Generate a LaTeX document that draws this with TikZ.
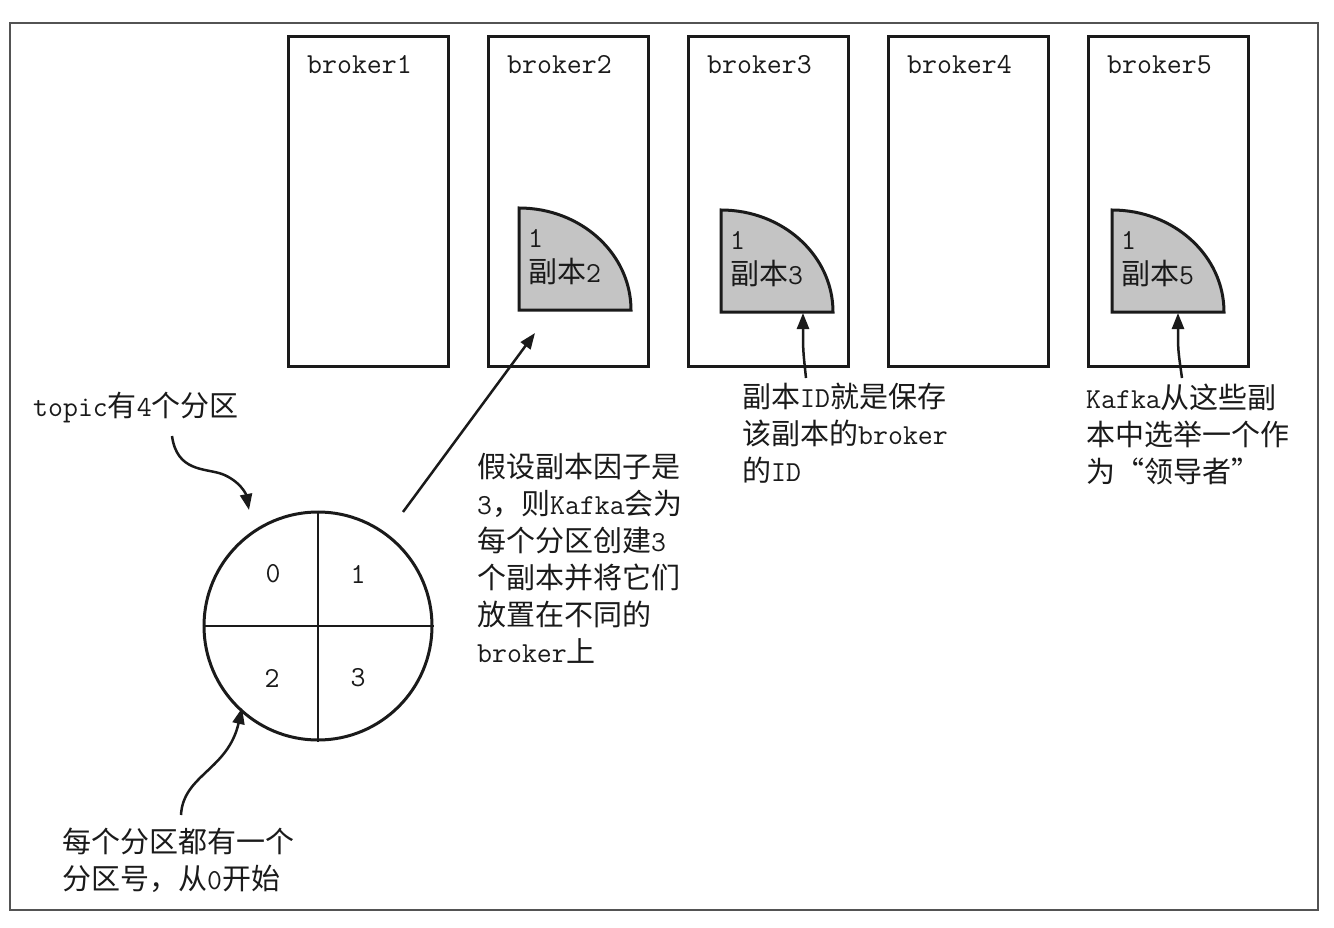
\documentclass[tikz,border=0pt]{standalone}
\usepackage{fontspec}
\newfontfamily\cjk{Noto Sans CJK SC}
\usetikzlibrary{arrows.meta}
\definecolor{shade}{HTML}{C4C4C4}
\definecolor{ink}{HTML}{1A1A1A}
\begin{document}
\begin{tikzpicture}[x=1pt,y=-1pt,
  frame/.style={draw=ink!75, line width=2pt},
  brokerbox/.style={draw=ink, line width=3pt, rectangle, minimum width=160pt, minimum height=330pt, inner sep=0pt},
  quarter/.style={draw=ink, line width=3pt, fill=shade, line join=miter},
  txt/.style={anchor=west, inner sep=0pt, align=left, text=ink, font=\fontsize{29}{37}\selectfont\ttfamily},
  qtxt/.style={txt, font=\fontsize{29}{35}\selectfont\ttfamily},
  arr/.style={draw=ink, line width=2.5pt, -{Triangle[length=16pt,width=12pt]}},
  divider/.style={draw=ink, line width=1.8pt}
]
\useasboundingbox (0,0) rectangle (1334,928);
\fill[white] (0,0) rectangle (1334,928);
\draw[frame] (10,23) rectangle (1318,910);

% brokers
\foreach \i/\x in {1/287,2/487,3/687,4/887,5/1087}{
  \node[brokerbox, anchor=north west] (b\i) at (\x,35) {};
  \node[txt] (bl\i) at (\x+20,65) {broker\i};
}

% replica quarters
\draw[quarter] (519,310) -- (519,208) arc[start angle=-90, end angle=0, x radius=112, y radius=102] -- cycle;
\node[qtxt] (r2) at (528,257) {1\\{\cjk 副本}2};
\coordinate (q2) at (535,333);

\draw[quarter] (721,312) -- (721,210) arc[start angle=-90, end angle=0, x radius=112, y radius=102] -- cycle;
\node[qtxt] (r3) at (730,259) {1\\{\cjk 副本}3};
\coordinate (q3) at (803,313);

\draw[quarter] (1112,312) -- (1112,210) arc[start angle=-90, end angle=0, x radius=112, y radius=102] -- cycle;
\node[qtxt] (r5) at (1121,259) {1\\{\cjk 副本}5};
\coordinate (q5) at (1178,313);

% partition circle
\node[circle, draw=ink, line width=3pt, minimum size=228pt, inner sep=0pt] (c) at (318,626) {};
\draw[divider] (c.north) -- (c.south);
\draw[divider] (c.west) -- (c.east);
\node[txt, anchor=center] (p0) at (273,574) {0};
\node[txt, anchor=center] (p1) at (358,574) {1};
\node[txt, anchor=center] (p2) at (272,678) {2};
\node[txt, anchor=center] (p3) at (358,678) {3};

% texts
\node[txt] (t1) at (33,408) {topic{\cjk 有}4{\cjk 个分区}};
\node[txt] (t2) at (477,558) {{\cjk 假设副本因子是}\\3{\cjk ，则}Kafka{\cjk 会为}\\{\cjk 每个分区创建}3\\{\cjk 个副本并将它们}\\{\cjk 放置在不同的}\\broker{\cjk 上}};
\node[txt] (t3) at (742,433) {{\cjk 副本}ID{\cjk 就是保存}\\{\cjk 该副本的}broker\\{\cjk 的}ID};
\node[txt] (t4) at (1086,434) {Kafka{\cjk 从这些副}\\{\cjk 本中选举一个作}\\{\cjk 为“领导者”}};
\node[txt] (t5) at (62,860) {{\cjk 每个分区都有一个}\\{\cjk 分区号，从}0{\cjk 开始}};

% connectors
\coordinate (s1) at (172,436);
\coordinate (e1) at (249,510);
\draw[arr] (s1) .. controls (177,472) and (205,468) .. (222,474) .. controls (240,481) and (246,494) .. (e1);
\coordinate (s5) at (181,815);
\coordinate (e5) at (242,708);
\draw[arr] (s5) .. controls (183,775) and (228,770) .. (e5);
\coordinate (s2) at (403,512);
\draw[arr] (s2) -- (q2);
\coordinate (s3) at (806,378);
\draw[arr] (s3) .. controls (803,350) .. (q3);
\coordinate (s4) at (1182,378);
\draw[arr] (s4) .. controls (1178,350) .. (q5);
\end{tikzpicture}
\end{document}
